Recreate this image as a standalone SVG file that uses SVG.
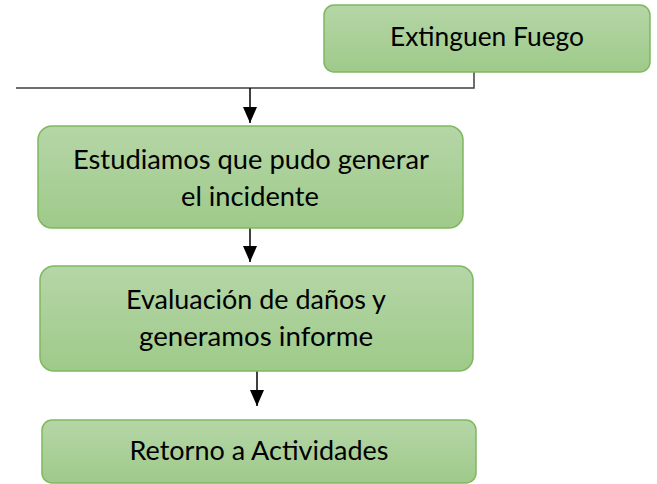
<svg xmlns="http://www.w3.org/2000/svg" width="657" height="484" viewBox="0 0 657 484">
  <style>
    .box { fill: url(#g); stroke: #7fb85f; stroke-width: 1.5; }
    .lbl { font-family: Lato, "Open Sans", "Liberation Sans", sans-serif; font-size: 26.5px; fill: #000; text-anchor: middle; }
    .ln { fill: none; stroke: #000; stroke-width: 1.5; }
    .ln2 { fill: none; stroke: #404040; stroke-width: 1.5; }
  </style>
  <defs>
    <linearGradient id="g" x1="0" y1="0" x2="0" y2="1">
      <stop offset="0" stop-color="#b5d6a7"/>
      <stop offset="1" stop-color="#9fca8a"/>
    </linearGradient>
    <marker id="ah" markerUnits="userSpaceOnUse" markerWidth="16" markerHeight="14" refX="16" refY="7" orient="auto">
      <path d="M0,0 L16,7 L0,14 Z" fill="#000"/>
    </marker>
  </defs>
  <rect width="657" height="484" fill="#fff"/>
  <g id="connectors">
    <path class="ln2" d="M474,72 V88 H16"/>
    <path class="ln" d="M250,88 V123" marker-end="url(#ah)"/>
    <path class="ln" d="M250,228 V262" marker-end="url(#ah)"/>
    <path class="ln" d="M257,371 V406" marker-end="url(#ah)"/>
  </g>
  <g id="n1">
    <rect class="box" x="324" y="5" width="326" height="67" rx="10"/>
    <text class="lbl" x="487" y="46" textLength="194" lengthAdjust="spacingAndGlyphs">Extinguen Fuego</text>
  </g>
  <g id="n2">
    <rect class="box" x="38" y="126" width="425" height="102" rx="14"/>
    <text class="lbl" x="251" y="169" textLength="356" lengthAdjust="spacingAndGlyphs">Estudiamos que pudo generar</text>
    <text class="lbl" x="250" y="206" textLength="138" lengthAdjust="spacingAndGlyphs">el incidente</text>
  </g>
  <g id="n3">
    <rect class="box" x="40" y="266" width="433" height="105" rx="14"/>
    <text class="lbl" x="256" y="309" textLength="260" lengthAdjust="spacingAndGlyphs">Evaluación de daños y</text>
    <text class="lbl" x="256" y="346" textLength="234" lengthAdjust="spacingAndGlyphs">generamos informe</text>
  </g>
  <g id="n4">
    <rect class="box" x="42" y="420" width="434" height="63" rx="10"/>
    <text class="lbl" x="259" y="460" textLength="259" lengthAdjust="spacingAndGlyphs">Retorno a Actividades</text>
  </g>
</svg>
